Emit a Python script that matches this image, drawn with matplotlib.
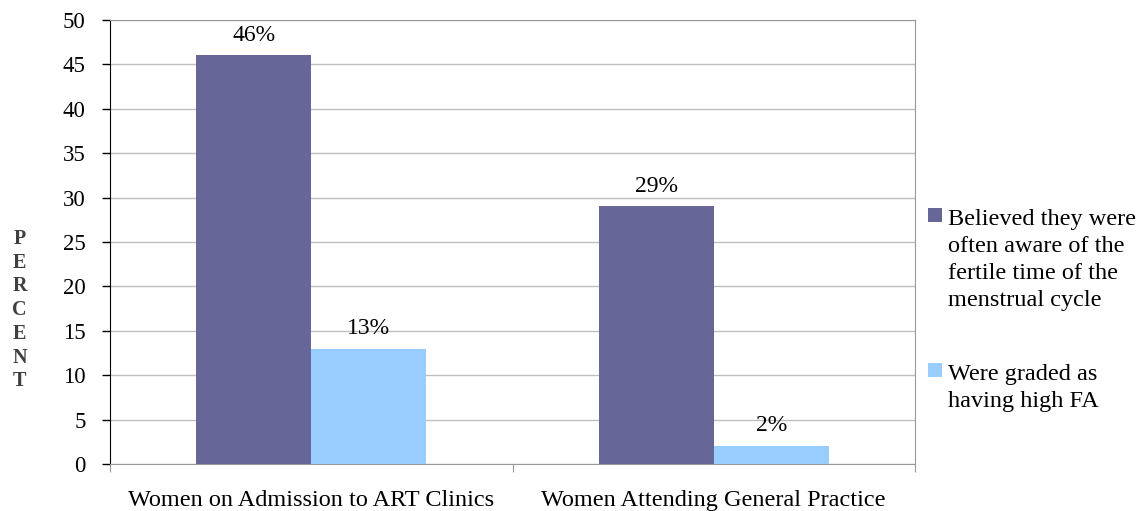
import numpy as np
import matplotlib.pyplot as plt
from matplotlib.patches import Rectangle

categories = ["Women on Admission to ART Clinics", "Women Attending General Practice"]
aware_pct = [46, 29]
high_fa_pct = [13, 2]
series_names = ["Believed they were\noften aware of the\nfertile time of the\nmenstrual cycle",
                "Were graded as\nhaving high FA"]
colors = ["#666699", "#99CCFF"]

plt.rcParams["font.family"] = ["Liberation Serif", "DejaVu Serif"]

fig = plt.figure(figsize=(11.45, 5.11), dpi=100)
ax = fig.add_axes([0.0961, 0.092, 0.703, 0.869])

x = np.arange(len(categories))
w = 0.286
for vals, off, c in [(aware_pct, -w / 2, colors[0]), (high_fa_pct, w / 2, colors[1])]:
    bars = ax.bar(x + off, vals, w, color=c, zorder=3)
    for b, v in zip(bars, vals):
        ax.text(b.get_x() + b.get_width() / 2, v + 1.1, f"{v}%", ha="center", va="bottom",
                fontsize=17, zorder=4)

ax.set_xlim(-0.5, 1.5)
ax.set_ylim(0, 50)
ax.set_yticks(range(0, 51, 5))
ax.yaxis.grid(True, color="#BFBFBF", linewidth=1, zorder=0)
ax.tick_params(axis="y", labelsize=16.5, direction="out", length=5.5, width=1, color="black", pad=12)

# category boundaries carry the ticks, labels sit at the centres
ax.set_xticks([-0.5, 0.5, 1.5])
ax.set_xticklabels([])
ax.set_xticks(x, minor=True)
ax.set_xticklabels(categories, minor=True, fontsize=17.5)
ax.tick_params(axis="x", which="major", direction="out", length=6, color="#999999")
ax.tick_params(axis="x", which="minor", length=0, pad=19)

for side in ["top", "right", "bottom"]:
    ax.spines[side].set_color("#999999")
ax.spines["left"].set_color("black")

fig.text(0.017, 0.393, "P\nE\nR\nC\nE\nN\nT", ha="center", va="center", fontsize=14.5,
         fontweight="bold", color="#404040", linespacing=1.25)

# legend drawn by hand so the swatch lines up with the first text line
legend_y = [0.579, 0.276]
for name, c, y in zip(series_names, colors, legend_y):
    fig.patches.append(Rectangle((0.8105, y - 0.0135), 0.0122, 0.027, transform=fig.transFigure,
                                 facecolor=c, edgecolor="none"))
    fig.text(0.828, y + 0.012, name, ha="left", va="top", fontsize=17.5, linespacing=1.38)

fig.savefig("out.png", dpi=100)
